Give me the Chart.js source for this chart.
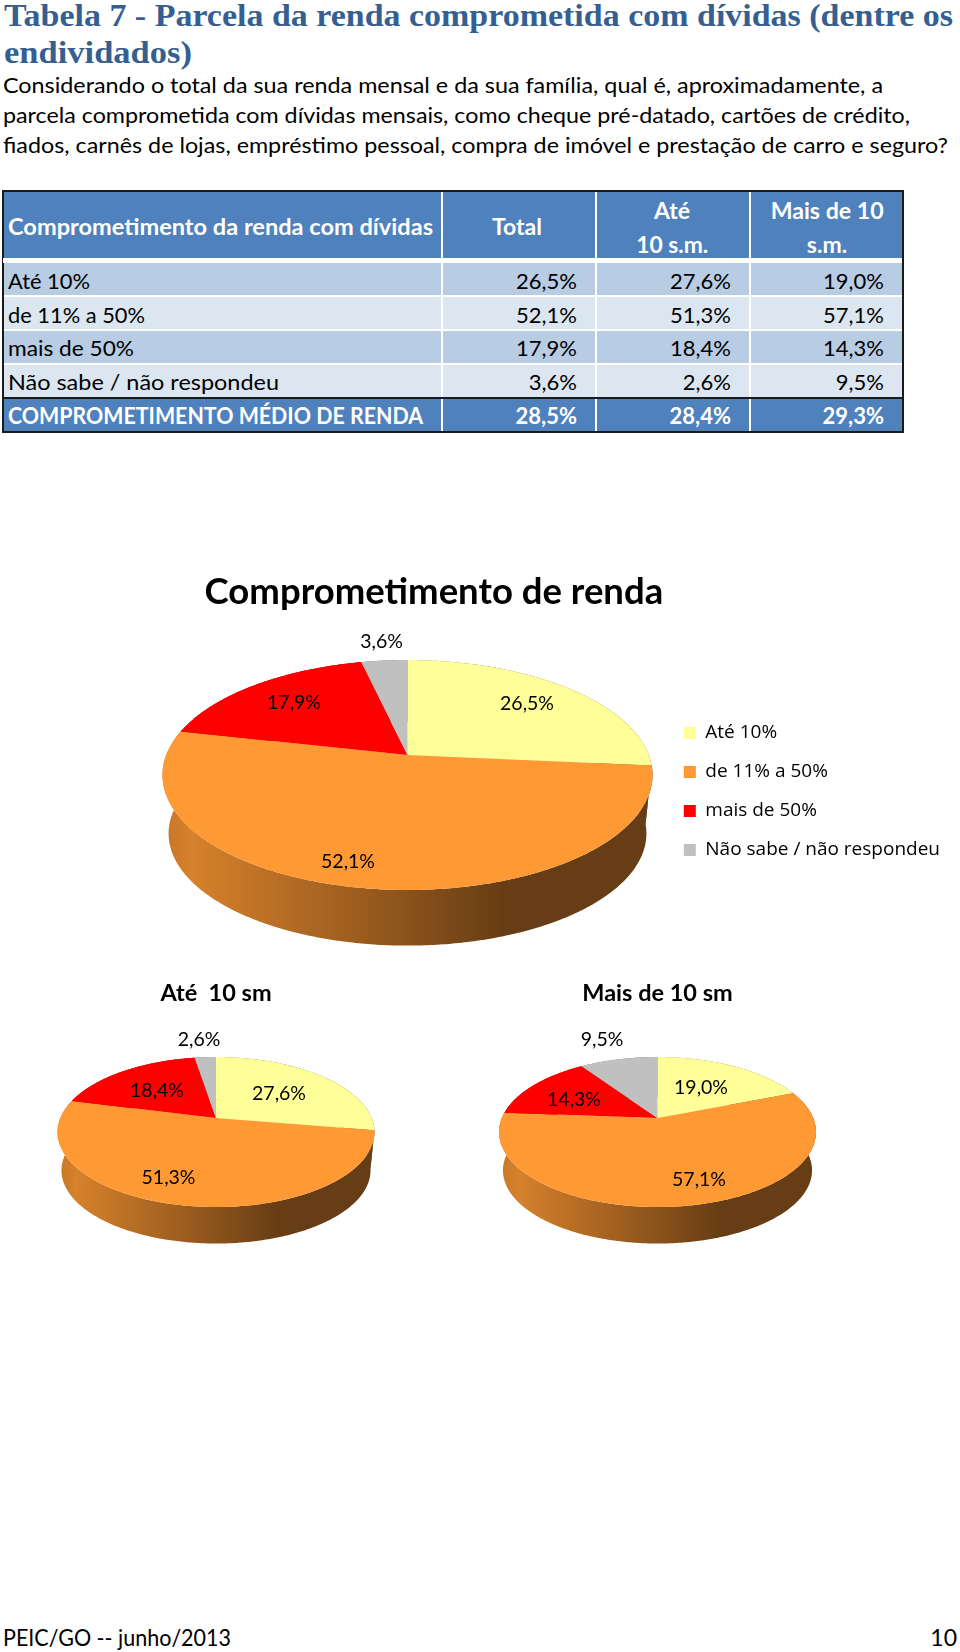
<!DOCTYPE html>
<html lang="pt">
<head>
<meta charset="utf-8">
<title>Tabela 7</title>
<script src="https://cdn.jsdelivr.net/npm/chart.js@4"></script>
<style>
html,body{margin:0;padding:0;background:#fff}
#page{position:relative;width:960px;height:1652px;overflow:hidden}
.t{position:absolute;white-space:nowrap;line-height:1}
.r{position:absolute}
canvas{position:absolute}
</style>
</head>
<body>
<div id="page"></div>
<script>
// ---------- data ----------
const categories = ['Até 10%', 'de 11% a 50%', 'mais de 50%', 'Não sabe / não respondeu'];
const valuesTotal = [26.5, 52.1, 17.9, 3.6];
const valuesUpTo10 = [27.6, 51.3, 18.4, 2.6];
const valuesOver10 = [19.0, 57.1, 14.3, 9.5];
const averageRow = [28.5, 28.4, 29.3];
const averageLabel = 'COMPROMETIMENTO MÉDIO DE RENDA';
const tableCorner = 'Comprometimento da renda com dívidas';
const sliceColors = ['#FFFF99', '#FF9933', '#FF0000', '#C0C0C0'];
const chartTitles = ['Comprometimento de renda', 'Até  10 sm', 'Mais de 10 sm'];

const pct = v => v.toFixed(1).replace('.', ',') + '%';
const page = document.getElementById('page');
const BODY = 'Lato, "Open Sans", sans-serif';

// ---------- text helper: real text, fitted to a target width ----------
function text(str, o) {
  const d = document.createElement('div');
  d.className = 't';
  d.textContent = str;
  d.style.font = `${o.bold ? 'bold ' : ''}${o.size}px ${o.family || BODY}`;
  d.style.color = o.color || '#000';
  page.appendChild(d);
  const natural = d.getBoundingClientRect().width;
  const sx = o.w ? o.w / natural : 1;
  const align = o.align || 'left';
  const left = align === 'left' ? o.x : align === 'right' ? o.x - natural : o.x - natural / 2;
  d.style.left = left + 'px';
  d.style.top = (o.y - o.size / 2 - 3) + 'px';
  d.style.transformOrigin = align === 'left' ? 'left center' : align === 'right' ? 'right center' : 'center center';
  d.style.transform = `scaleX(${sx})`;
}
function rect(x, y, w, h, c) {
  const d = document.createElement('div');
  d.className = 'r';
  d.style.cssText = `left:${x}px;top:${y}px;width:${w}px;height:${h}px;background:${c}`;
  page.appendChild(d);
}

// ---------- heading ----------
const SERIF = '"Liberation Serif", serif';
text('Tabela 7 - Parcela da renda comprometida com dívidas (dentre os', {x:4, y:16, w:949, size:31, bold:true, family:SERIF, color:'#365F91'});
text('endividados)', {x:4, y:53, w:188, size:31, bold:true, family:SERIF, color:'#365F91'});
text('Considerando o total da sua renda mensal e da sua família, qual é, aproximadamente, a', {x:3, y:85, w:880, size:21});
text('parcela comprometida com dívidas mensais, como cheque pré-datado, cartões de crédito,', {x:3, y:115, w:907, size:21});
text('fiados, carnês de lojas, empréstimo pessoal, compra de imóvel e prestação de carro e seguro?', {x:3, y:145, w:945, size:21});

// ---------- table ----------
const HEAD = '#4F81BD', BAND1 = '#B8CCE4', BAND2 = '#DCE6F1', LINE = '#1a1a1a';
const colEdges = [441, 595, 749];
const colRight = [577, 731, 884];
const colCenter = [517, 672, 827];
rect(2, 191, 901, 67, HEAD);
const rowBoxes = [[263,32],[297,32],[331,32],[365,32]];
rowBoxes.forEach((b, i) => rect(3, b[0], 899, b[1], i % 2 ? BAND2 : BAND1));
rect(2, 398, 901, 33, HEAD);
rect(2, 190, 901, 2, LINE);
rect(2, 397, 901, 2, LINE);
rect(2, 431, 901, 2, LINE);
rect(2, 190, 2, 243, LINE); rect(902, 190, 2, 243, LINE);
rect(2, 258, 901, 5, '#fff');
rect(2, 258, 1, 5, LINE); rect(902, 258, 1, 5, LINE);
colEdges.forEach(x => { rect(x, 192, 2, 66, '#fff'); rect(x, 263, 2, 134, '#fff'); rect(x, 399, 2, 32, '#fff'); });

text(tableCorner, {x:8, y:226, w:425, size:23, bold:true, color:'#fff'});
text('Total', {x:colCenter[0], y:226, size:23, bold:true, color:'#fff', align:'center'});
text('Até', {x:colCenter[1], y:210, size:23, bold:true, color:'#fff', align:'center'});
text('10 s.m.', {x:colCenter[1], y:244, w:72, size:23, bold:true, color:'#fff', align:'center'});
text('Mais de 10', {x:colCenter[2], y:210, w:113, size:23, bold:true, color:'#fff', align:'center'});
text('s.m.', {x:colCenter[2], y:244, size:23, bold:true, color:'#fff', align:'center'});

const rowY = [281, 315, 348, 382];
const rowLabelW = [82, 137, 126, 271];
categories.forEach((c, i) => {
  text(c, {x:8, y:rowY[i], w:rowLabelW[i], size:22});
  [valuesTotal, valuesUpTo10, valuesOver10].forEach((s, j) =>
    text(pct(s[i]), {x:colRight[j], y:rowY[i], size:22, align:'right'}));
});
text(averageLabel, {x:8, y:416, w:415, size:22, bold:true, color:'#fff'});
averageRow.forEach((v, j) => text(pct(v), {x:colRight[j], y:416, size:22, bold:true, color:'#fff', align:'right'}));

// ---------- footer ----------
text('PEIC/GO -- junho/2013', {x:3, y:1637, w:228, size:23});
text('10', {x:957, y:1637, size:23, align:'right'});

// ---------- perspective pie plugin ----------
function rgb(hex) { return [1,3,5].map(i => parseInt(hex.slice(i, i + 2), 16)); }
const wallStops = [[0,.78],[.06,.84],[.37,.63],[.70,.40],[1,.40]];

const perspectivePie = {
  id: 'perspectivePie',
  beforeDatasetsDraw(chart, args, o) {
    const ctx = chart.ctx;
    const meta = chart.getDatasetMeta(0);
    const ax = o.apex[0] - o.canvas[0], ay = o.apex[1] - o.canvas[1];
    const top = a => {
      const u = Math.cos(a), v = Math.sin(a), w = 1 - o.k * v;
      return [ax + o.rx * u / w, ay + o.ry * v / w];
    };
    const low = a => {
      const p = top(a);
      return [ax + (p[0] - ax) * o.scale, ay + (p[1] - ay) * o.scale + o.depth];
    };
    const samples = el => {
      const n = Math.max(8, Math.ceil((el.endAngle - el.startAngle) * 90)), out = [];
      for (let i = 0; i <= n; i++) out.push(el.startAngle + (el.endAngle - el.startAngle) * i / n);
      return out;
    };
    const halfW = o.rx / Math.sqrt(1 - o.k * o.k);
    // side wall
    meta.data.forEach(el => {
      const c = rgb(el.options.backgroundColor);
      const g = ctx.createLinearGradient(ax - halfW, 0, ax + halfW, 0);
      wallStops.forEach(s => g.addColorStop(s[0], `rgb(${c.map(x => Math.round(x * s[1])).join(',')})`));
      const as = samples(el);
      ctx.beginPath();
      as.forEach((a, j) => { const p = top(a); j ? ctx.lineTo(p[0], p[1]) : ctx.moveTo(p[0], p[1]); });
      as.slice().reverse().forEach(a => { const p = low(a); ctx.lineTo(p[0], p[1]); });
      ctx.closePath();
      ctx.fillStyle = g;
      ctx.fill();
    });
    // top face
    meta.data.forEach(el => {
      ctx.beginPath();
      ctx.moveTo(ax, ay);
      samples(el).forEach(a => { const p = top(a); ctx.lineTo(p[0], p[1]); });
      ctx.closePath();
      ctx.fillStyle = el.options.backgroundColor;
      ctx.fill();
    });
    // value labels
    ctx.fillStyle = '#000';
    ctx.font = `${o.labelSize}px ${BODY}`;
    ctx.textAlign = 'center';
    ctx.textBaseline = 'middle';
    chart.data.datasets[0].data.forEach((v, i) => {
      ctx.fillText(pct(v), ax + o.labelOffsets[i][0], ay + o.labelOffsets[i][1]);
    });
    return false;
  }
};

function makeChart(box, title, values, opts) {
  const cv = document.createElement('canvas');
  cv.width = box[2]; cv.height = box[3];
  cv.style.left = box[0] + 'px'; cv.style.top = box[1] + 'px';
  page.appendChild(cv);
  return new Chart(cv, {
    type: 'pie',
    data: { labels: categories, datasets: [{ data: values, backgroundColor: sliceColors, borderWidth: 0, clip: false }] },
    plugins: [perspectivePie],
    options: {
      responsive: false, animation: false, devicePixelRatio: 1,
      layout: { padding: opts.padding || 0 },
      plugins: {
        tooltip: { enabled: false },
        title: { display: true, text: title, color: '#000', fullSize: false,
          font: { family: BODY, weight: 'bold', size: opts.titleSize, lineHeight: 1.2 },
          padding: opts.titlePadding },
        legend: opts.legend || { display: false },
        perspectivePie: Object.assign({ canvas: [box[0], box[1]] }, opts.pie)
      }
    }
  });
}

const offsetsTotal = [[119.5,-51],[-59.5,107],[-113.5,-52],[-26,-113]];
const offsetsUpTo10 = [[63,-24],[-47.5,60],[-59,-27],[-17,-78]];
const offsetsOver10 = [[43.5,-30.5],[41.5,62],[-83.5,-18],[-55.5,-78]];

makeChart([150,565,800,400], chartTitles[0], valuesTotal, {
  padding: { left: 54 },
  titleSize: 36.5, titlePadding: { top: 5, bottom: 4 },
  legend: { display: true, position: 'right', fullSize: false,
    labels: { boxWidth: 12, boxHeight: 12, padding: 20, color: '#000',
      font: { family: '"Open Sans", sans-serif', size: 19 } } },
  pie: { apex: [407.5,755], k: .174, rx: 241.3, ry: 111.5, scale: .975, depth: 59, labelSize: 19.5, labelOffsets: offsetsTotal }
});
const smallPie = { k: .187, rx: 155.7, ry: 72.4, scale: .975, depth: 38.7, labelSize: 19.5 };
makeChart([30,975,372,285], chartTitles[1], valuesUpTo10, {
  titleSize: 23.5, titlePadding: { top: 4, bottom: 4 },
  pie: Object.assign({ apex: [216,1118], labelOffsets: offsetsUpTo10 }, smallPie)
});
makeChart([490,975,335,285], chartTitles[2], valuesOver10, {
  titleSize: 23.5, titlePadding: { top: 4, bottom: 4 },
  pie: Object.assign({ apex: [657.5,1118], labelOffsets: offsetsOver10 }, smallPie)
});
</script>
</body>
</html>
